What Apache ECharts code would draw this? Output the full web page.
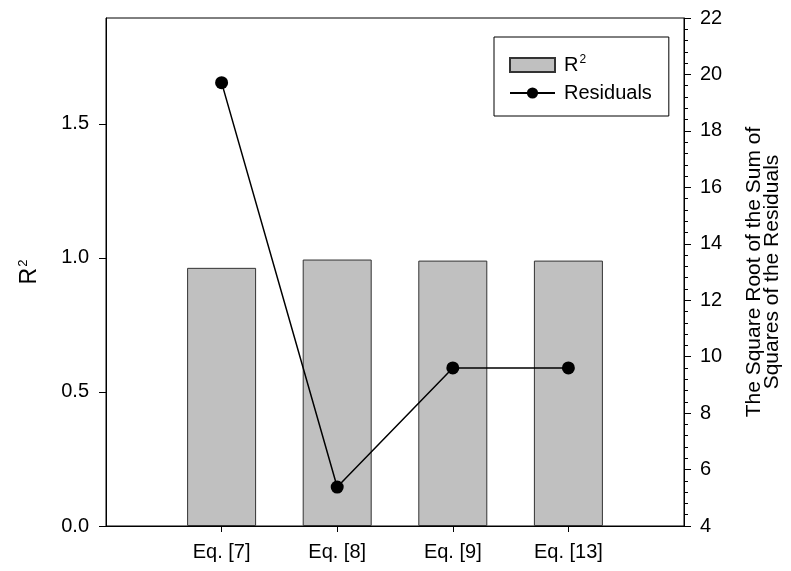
<!DOCTYPE html>
<html>
<head>
<meta charset="utf-8">
<script src="https://cdn.jsdelivr.net/npm/echarts@6/dist/echarts.min.js"></script>
<style>html,body{margin:0;padding:0;background:#fff;}#c{width:791px;height:571px;}</style>
</head>
<body>
<div id="c"></div>
<script>
const categories = ['Eq. [7]', 'Eq. [8]', 'Eq. [9]', 'Eq. [13]'];
const r2Values = [0.963, 0.994, 0.990, 0.990];
const residualValues = [19.71, 5.38, 9.60, 9.60];
const leftTicks = [0, 0.5, 1.0, 1.5];

const FONT = '"Liberation Sans", Arial, sans-serif';
const axisData = [''].concat(categories, ['']);
const barData = [null].concat(r2Values, [null]);
const lineData = [null].concat(residualValues, [null]);

const chart = echarts.init(document.getElementById('c'), null, {renderer: 'canvas'});
chart.setOption({
  animation: false,
  backgroundColor: '#fff',
  textStyle: {fontFamily: FONT, color: '#000'},
  grid: {left: 106, right: 107, top: 18, bottom: 45, show: true, borderColor: '#000', borderWidth: 1, backgroundColor: 'transparent'},
  legend: {
    orient: 'vertical',
    left: 494, top: 37,
    padding: [17, 17, 13, 15],
    itemGap: 8,
    itemWidth: 45, itemHeight: 14,
    borderColor: '#000', borderWidth: 1,
    backgroundColor: '#fff',
    textStyle: {fontFamily: FONT, fontSize: 20, color: '#000', padding: [0, 0, 0, 4],
      rich: {b: {fontFamily: FONT, fontSize: 20, color: '#000'}, s: {fontFamily: FONT, fontSize: 12, color: '#000', padding: [0, 0, 10, 1]}}},
    formatter: n => n === 'R2' ? '{b|R}{s|2}' : n,
    data: [{name: 'R2', icon: 'rect'}, {name: 'Residuals'}]
  },
  xAxis: {
    type: 'category',
    data: axisData,
    boundaryGap: false,
    axisLine: {lineStyle: {color: '#000', width: 1}},
    axisTick: {show: true, length: 6, inside: false, interval: (i, v) => v !== '', lineStyle: {color: '#000'}},
    axisLabel: {fontFamily: FONT, fontSize: 20, color: '#000', margin: 16, interval: 0},
    splitLine: {show: false}
  },
  yAxis: [{
    type: 'value',
    min: 0, max: 1.895,
    position: 'left',
    name: '{b|R}{s|2}',
    nameLocation: 'middle',
    nameRotate: 90,
    nameGap: 64,
    nameTextStyle: {fontFamily: FONT, fontSize: 23, color: '#000',
      rich: {b: {fontFamily: FONT, fontSize: 23, color: '#000'}, s: {fontFamily: FONT, fontSize: 13, color: '#000', padding: [0, 0, 12, 1]}}},
    axisLine: {show: true, lineStyle: {color: '#000', width: 1}},
    axisTick: {show: true, length: 7, customValues: leftTicks, lineStyle: {color: '#000'}},
    axisLabel: {fontFamily: FONT, fontSize: 20, color: '#000', margin: 17, customValues: leftTicks, formatter: v => v.toFixed(1)},
    splitLine: {show: false}
  }, {
    type: 'value',
    min: 4, max: 22, interval: 2,
    position: 'right',
    name: 'The Square Root of the Sum of\nSquares of the Residuals',
    nameLocation: 'middle',
    nameRotate: 90,
    nameGap: 61,
    nameTextStyle: {fontFamily: FONT, fontSize: 21, color: '#000', lineHeight: 18, align: 'center'},
    axisLine: {show: true, lineStyle: {color: '#000', width: 1}},
    axisTick: {show: true, length: 7, lineStyle: {color: '#000'}},
    minorTick: {show: true, splitNumber: 5, length: 4, lineStyle: {color: '#000'}},
    axisLabel: {fontFamily: FONT, fontSize: 20, color: '#000', margin: 16},
    splitLine: {show: false},
    minorSplitLine: {show: false}
  }],
  series: [{
    name: 'R2',
    type: 'bar',
    data: barData,
    barWidth: 69,
    itemStyle: {color: '#c0c0c0', borderColor: '#333', borderWidth: 1}
  }, {
    name: 'Residuals',
    type: 'line',
    yAxisIndex: 1,
    data: lineData,
    symbol: 'circle',
    symbolSize: 13,
    connectNulls: false,
    lineStyle: {color: '#000', width: 1.5},
    itemStyle: {color: '#000'}
  }]
});
</script>
</body>
</html>
